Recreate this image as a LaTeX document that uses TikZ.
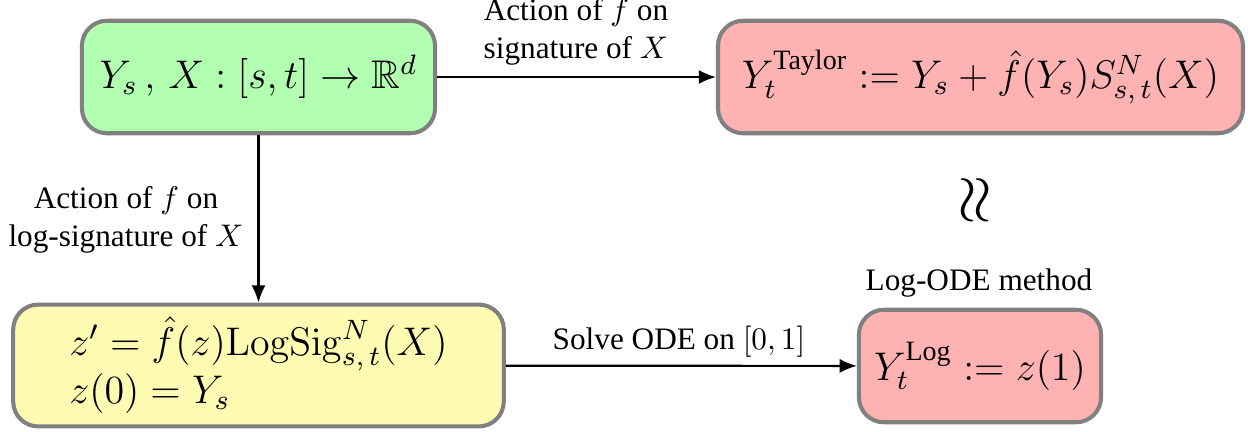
\RequirePackage{fix-cm}
\documentclass[tikz,border=0pt]{standalone}
\usepackage{amsmath,amssymb}
\usepackage[no-math]{fontspec}
\setmainfont{Liberation Serif}
\usetikzlibrary{arrows.meta}

\begin{document}
\begin{tikzpicture}[x=0.32pt, y=-0.32pt,
    box/.style={draw=gray, line width=1.3pt, rounded corners=8pt, font=\fontsize{12.8}{14.4}\selectfont, inner sep=0pt},
    arr/.style={-{Latex[length=5.5pt,width=4.5pt]}, line width=0.7pt},
    lbl/.style={align=center, font=\normalsize}]

    \useasboundingbox (0,0) rectangle (1248,431);

    \node[box, fill=green!30, minimum width=113pt, minimum height=36pt] (start) at (258.5,77) {$Y_s\,,\, X:[s,t]\to\mathbb{R}^d$};
    \node[box, fill=red!30, minimum width=168pt, minimum height=36pt] (taylor) at (980.5,77) {$Y_t^{\text{Taylor}} := Y_s + \hat{f}(Y_s)S^N_{s,\,t}(X)$};
    \node[box, fill=yellow!30, minimum width=157pt, minimum height=39pt, align=left] (logode) at (258.5,365.5) {$z' = \hat{f}(z)\mathrm{LogSig}^N_{s,\,t}(X)$\\$z(0) = Y_s$};
    \node[box, fill=red!30, minimum width=77.5pt, minimum height=36pt] (logsol) at (980,366) {$Y_t^{\text{Log}} := z(1)$};

    \node[rotate=90, font=\huge] (approx) at (977,200) {$\approx$};

    \node[lbl] (sigtext) at (576,32) {Action of $f$ on\\signature of $X$};
    \node[lbl] (logsigtext) at (126,220) {Action of $f$ on\\log-signature of $X$};
    \node[lbl] (solvetext) at (679,342) {Solve ODE on $[0,1]$};
    \node[lbl] (methodtext) at (979,283) {Log-ODE method};

    \draw[arr] (start) -- (taylor);
    \draw[arr] (start) -- (logode);
    \draw[arr] (logode) -- (logsol);

\end{tikzpicture}
\end{document}
